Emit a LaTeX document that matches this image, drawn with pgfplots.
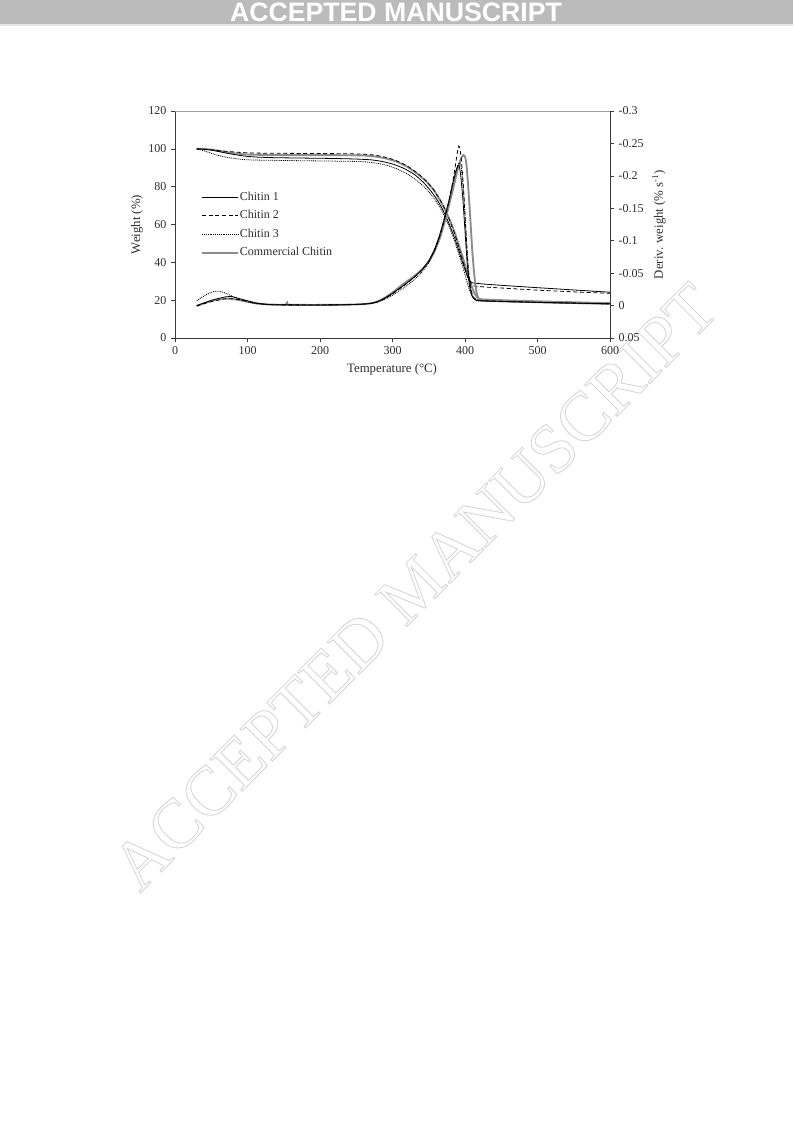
\documentclass[border=0pt]{standalone}
\usepackage{fontspec}
\setmainfont{Liberation Serif}
\newfontfamily\hdrfont{Liberation Sans}
\usepackage{pgfplots}
\pgfplotsset{compat=1.18}
\definecolor{hdrgray}{HTML}{BBBBBB}
\definecolor{cgray}{HTML}{8C8C8C}
\definecolor{txt}{HTML}{2E2E2E}
\definecolor{axl}{HTML}{3A3A3A}

\begin{document}
\begin{tikzpicture}
\fill[white] (0,0) rectangle (594.75pt,-840.75pt);
\fill[hdrgray] (0,0) rectangle (594.75pt,-18pt);
\fill[black!10] (0,-18pt) rectangle (594.75pt,-19.5pt);
\node[text=white, font=\hdrfont\bfseries\fontsize{20}{20}\selectfont] at (297pt,-9.4pt) {ACCEPTED MANUSCRIPT};
\node[rotate=45, text=black!16, font=\fontsize{52}{52}\selectfont] at (311pt,-440pt) {\special{pdf:literal 1 Tr 0.65 w}ACCEPTED MANUSCRIPT\special{pdf:literal 0 Tr}};

\pgfplotsset{
  chartbase/.style={
    at={(131.25pt,-253.5pt)}, anchor=south west, scale only axis,
    width=326.25pt, height=170.25pt, xmin=0, xmax=600,
    tick align=outside, major tick length=3pt,
    every tick/.style={axl, line width=0.5pt},
    axis line style={axl, line width=0.6pt},
    tick label style={font=\fontsize{9}{10}\selectfont, text=txt},
    label style={font=\fontsize{9.6}{11}\selectfont, text=txt},
    /pgf/number format/assume math mode=true,
  },
  c1/.style={black, line width=0.6pt, smooth, tension=0.3},
  c2/.style={black, line width=0.6pt, dash pattern=on 3pt off 2pt, smooth, tension=0.3},
  c3/.style={black, line width=0.6pt, dash pattern=on 0.7pt off 0.7pt, smooth, tension=0.3},
  c4/.style={cgray, line width=1.4pt, smooth, tension=0.3},
}

\begin{axis}[chartbase,
  ymin=0, ymax=120,
  xtick={0,100,200,300,400,500,600},
  ytick={0,20,40,60,80,100,120},
  axis x line*=bottom, axis y line*=left,
  xlabel={Temperature (°C)}, ylabel={Weight (\%)},
  xlabel style={at={(axis description cs:0.499,-0.1366)}, anchor=center},
  ylabel style={at={(axis description cs:-0.0874,0.5)}, anchor=center},
  legend style={at={(axis description cs:0.0595,0.649)}, anchor=north west,
    draw=none, fill=none, inner sep=0pt, font=\fontsize{9}{10}\selectfont, text=txt,
    nodes={inner sep=0.6pt, text height=6.3pt, text depth=1.8pt}, row sep=4.6pt},
  legend cell align=left,
  legend image code/.code={\draw[#1] (0cm,0cm) -- (0.95cm,0cm);},
]
\draw[black!38, line width=0.6pt] (rel axis cs:0,1) -- (rel axis cs:1,1);
\addlegendimage{c1}\addlegendentry{Chitin 1}
\addlegendimage{c2}\addlegendentry{Chitin 2}
\addlegendimage{c3}\addlegendentry{Chitin 3}
\addlegendimage{c4}\addlegendentry{Commercial Chitin}
% Commercial chitin weight
\addplot[c4, forget plot] coordinates {(30,100)(40,99.9)(50,99.6)(60,99.0)(70,98.3)(80,97.7)(90,97.3)(100,97.0)(120,96.8)(160,96.7)(200,96.7)(240,96.6)(260,96.5)(275,96.0)(290,95.0)(305,93.3)(320,90.6)(335,86.6)(347,82.6)(357,78.2)(366,72.5)(373,67.3)(380,61.5)(386,55.5)(392,48.5)(397,42.5)(402,36.0)(406,31.0)(410,26.5)(414,23.0)(418,21.0)(424,20.4)(450,20.0)(500,19.4)(550,18.9)(600,18.4)};
% Chitin 1 weight
\addplot[c1, forget plot] coordinates {(30,100)(40,99.8)(50,99.3)(60,98.6)(70,97.8)(80,97.1)(90,96.5)(100,96.0)(115,95.6)(140,95.3)(180,95.1)(220,94.9)(250,94.6)(270,94.2)(285,93.4)(300,92.0)(315,89.8)(330,86.5)(342,82.5)(352,78.2)(360,74.0)(367,69.5)(374,64.0)(380,58.5)(386,52.5)(392,45.5)(397,39.5)(402,34.0)(406,30.5)(410,29.2)(415,28.9)(430,28.4)(460,27.6)(500,26.6)(550,25.4)(600,24.2)};
% Chitin 2 weight
\addplot[c2, forget plot] coordinates {(30,100)(40,99.8)(50,99.5)(60,99.1)(70,98.7)(80,98.4)(90,98.1)(100,97.9)(120,97.7)(160,97.6)(200,97.5)(240,97.4)(260,97.2)(275,96.7)(290,95.6)(305,93.8)(320,91.0)(335,87.0)(347,82.8)(357,78.2)(365,73.5)(372,68.5)(378,63.0)(384,57.0)(390,50.0)(395,43.5)(400,37.0)(404,32.0)(408,28.7)(412,27.6)(416,27.3)(430,26.9)(460,26.2)(500,25.3)(550,24.4)(600,23.6)};
% Chitin 3 weight
\addplot[c3, forget plot] coordinates {(30,100)(38,99.2)(46,98.2)(55,97.0)(65,96.0)(75,95.3)(88,94.6)(100,94.2)(120,94.0)(160,93.8)(200,93.6)(240,93.4)(260,93.2)(275,92.6)(290,91.5)(305,89.6)(320,86.8)(335,82.8)(346,79.0)(356,74.5)(364,70.0)(371,65.0)(378,59.0)(384,53.0)(390,46.0)(395,40.0)(400,33.5)(404,28.0)(408,23.5)(412,21.0)(418,20.0)(430,19.6)(460,19.2)(500,18.8)(550,18.3)(600,17.8)};
\end{axis}

\begin{axis}[chartbase,
  ymin=-0.3, ymax=0.05, y dir=reverse,
  axis x line=none, axis y line*=right,
  ytick={-0.3,-0.25,-0.2,-0.15,-0.1,-0.05,0,0.05},
  yticklabel style={/pgf/number format/fixed, /pgf/number format/precision=2},
  ylabel={Deriv. weight (\% s\textsuperscript{-1})},
  ylabel style={at={(axis description cs:1.1126,0.5)}, anchor=center},
]
% Commercial chitin derivative
\addplot[c4] coordinates {(30,0.0005)(40,-0.0035)(50,-0.0070)(60,-0.0095)(68,-0.0108)(76,-0.0105)(88,-0.0085)(100,-0.0060)(112,-0.0035)(125,-0.0020)(140,-0.0013)(152,-0.0012)(154.5,-0.0040)(157,-0.0012)(200,-0.0010)(230,-0.0012)(255,-0.0020)(270,-0.0035)(280,-0.0065)(290,-0.0125)(300,-0.0200)(310,-0.0290)(320,-0.0375)(330,-0.0455)(340,-0.0550)(350,-0.0680)(358,-0.0840)(365,-0.1030)(372,-0.1290)(378,-0.1550)(384,-0.1820)(389,-0.2060)(393,-0.2220)(396,-0.2300)(398,-0.2320)(400,-0.2300)(402,-0.2180)(404,-0.1900)(407,-0.1400)(410,-0.0850)(413,-0.0450)(416,-0.0200)(419,-0.0100)(423,-0.0080)(450,-0.0068)(500,-0.0052)(550,-0.0040)(600,-0.0030)};
% Chitin 1 derivative
\addplot[c1] coordinates {(30,0.0)(40,-0.004)(50,-0.008)(60,-0.011)(70,-0.0135)(78,-0.0138)(88,-0.011)(100,-0.0075)(112,-0.004)(125,-0.002)(140,-0.0012)(170,-0.0010)(200,-0.0010)(230,-0.0012)(255,-0.0020)(270,-0.0035)(280,-0.0065)(290,-0.0120)(300,-0.0190)(310,-0.0270)(320,-0.0350)(330,-0.0440)(340,-0.0545)(350,-0.0690)(358,-0.0870)(365,-0.1090)(372,-0.1370)(378,-0.1630)(383,-0.1880)(387,-0.2060)(390,-0.2160)(392,-0.2150)(394,-0.2020)(397,-0.1650)(400,-0.1150)(403,-0.0650)(406,-0.0320)(410,-0.0140)(415,-0.0085)(420,-0.0075)(450,-0.0065)(500,-0.0050)(550,-0.0038)(600,-0.0028)};
% Chitin 2 derivative
\addplot[c2] coordinates {(30,0.0005)(40,-0.003)(50,-0.006)(60,-0.0085)(70,-0.0105)(80,-0.0105)(90,-0.009)(100,-0.0065)(112,-0.0035)(125,-0.002)(140,-0.0012)(200,-0.0010)(230,-0.0012)(255,-0.0020)(270,-0.0033)(280,-0.0060)(290,-0.0110)(300,-0.0180)(310,-0.0260)(320,-0.0345)(330,-0.0435)(340,-0.0540)(350,-0.0680)(358,-0.0850)(365,-0.1060)(372,-0.1340)(378,-0.1620)(383,-0.1900)(387,-0.2180)(390,-0.2400)(391.5,-0.2460)(393,-0.2420)(395,-0.2250)(398,-0.1800)(401,-0.1200)(404,-0.0650)(407,-0.0320)(411,-0.0140)(416,-0.0090)(420,-0.0080)(450,-0.0066)(500,-0.0051)(550,-0.0039)(600,-0.0029)};
% Chitin 3 derivative
\addplot[c3] coordinates {(30,-0.0075)(38,-0.0135)(46,-0.0185)(55,-0.0220)(62,-0.0220)(70,-0.0190)(80,-0.0140)(90,-0.0090)(100,-0.0055)(110,-0.0030)(125,-0.0018)(140,-0.0012)(200,-0.0010)(255,-0.0018)(270,-0.0030)(280,-0.0055)(290,-0.0100)(300,-0.0160)(310,-0.0235)(320,-0.0310)(330,-0.0400)(340,-0.0510)(350,-0.0660)(358,-0.0840)(365,-0.1060)(372,-0.1340)(378,-0.1600)(383,-0.1850)(387,-0.2040)(391,-0.2180)(393,-0.2200)(395,-0.2120)(398,-0.1750)(401,-0.1200)(404,-0.0650)(407,-0.0300)(411,-0.0120)(416,-0.0075)(420,-0.0070)(450,-0.0060)(500,-0.0048)(550,-0.0037)(600,-0.0027)};
\end{axis}
\pgfresetboundingbox
\path (0,0) rectangle (594.75pt,-840.75pt);
\end{tikzpicture}
\end{document}
